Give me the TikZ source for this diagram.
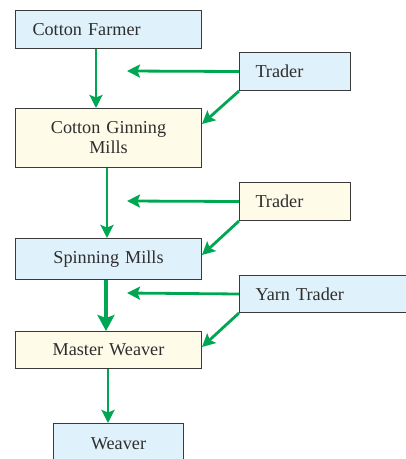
\documentclass[tikz,border=0pt]{standalone}
\usepackage{fontspec}
\setmainfont{Liberation Serif}
\usetikzlibrary{arrows.meta}
\definecolor{boxblue}{HTML}{DFF1FA}
\definecolor{boxcream}{HTML}{FFFBE9}
\definecolor{flowgreen}{HTML}{00A651}
\definecolor{edgegray}{HTML}{3A3A3A}
\definecolor{txtgray}{HTML}{2E2E2E}
\tikzset{
  box/.style={draw=edgegray, line width=1pt, text=txtgray, inner sep=0pt,
    font=\fontsize{18.2}{20}\selectfont, anchor=north west},
  bluebox/.style={box, fill=boxblue},
  creambox/.style={box, fill=boxcream},
  flow/.style={draw=flowgreen, line width=2.8pt,
    -{Stealth[length=13pt,width=13pt,inset=2.5pt]}},
  bigflow/.style={flow, line width=3.2pt,
    -{Stealth[length=16pt,width=17pt,inset=3pt]}},
}
\begin{document}
\begin{tikzpicture}[x=1pt,y=-1pt]
\useasboundingbox (0,0) rectangle (406,459);
\node[bluebox, minimum width=186pt, minimum height=38pt, text width=152pt, align=left] (cf) at (15,10) {Cotton Farmer};
\node[bluebox, minimum width=111pt, minimum height=38pt, text width=79pt, align=left] (t1) at (239,52) {Trader};
\node[creambox, minimum width=186pt, minimum height=59pt, text width=180pt, align=center] (cg) at (15,108) {Cotton Ginning\\Mills};
\node[creambox, minimum width=111pt, minimum height=38pt, text width=79pt, align=left] (t2) at (239,182) {Trader};
\node[bluebox, minimum width=186pt, minimum height=41pt, text width=180pt, align=center] (sm) at (15,238) {Spinning Mills};
\node[bluebox, minimum width=167pt, minimum height=37pt, text width=135pt, align=left] (yt) at (239,275) {Yarn Trader};
\node[creambox, minimum width=186pt, minimum height=37pt, text width=180pt, align=center] (mw) at (15,331) {Master Weaver};
\node[bluebox, minimum width=130pt, minimum height=40pt, text width=124pt, align=center] (wv) at (53,423) {Weaver};

\coordinate (h1) at (127,71);
\coordinate (h2) at (127,201);
\coordinate (h3) at (127,293);

\draw[flow] (cf.south -| 96,0) -- (cg.north -| 96,0);
\draw[flow] (t1.west) -- (h1);
\draw[flow] (t1.south west) -- (cg.east |- 0,124);
\draw[flow] (cg.south -| 107,0) -- (sm.north -| 107,0);
\draw[flow] (t2.west) -- (h2);
\draw[flow] (t2.south west) -- (sm.east |- 0,255);
\draw[bigflow] (sm.south -| 106,0) -- (mw.north -| 106,0);
\draw[flow] (yt.west) -- (h3);
\draw[flow] (yt.south west) -- (mw.east |- 0,347);
\draw[flow] (mw.south -| 108,0) -- (wv.north -| 108,0);
\end{tikzpicture}
\end{document}
